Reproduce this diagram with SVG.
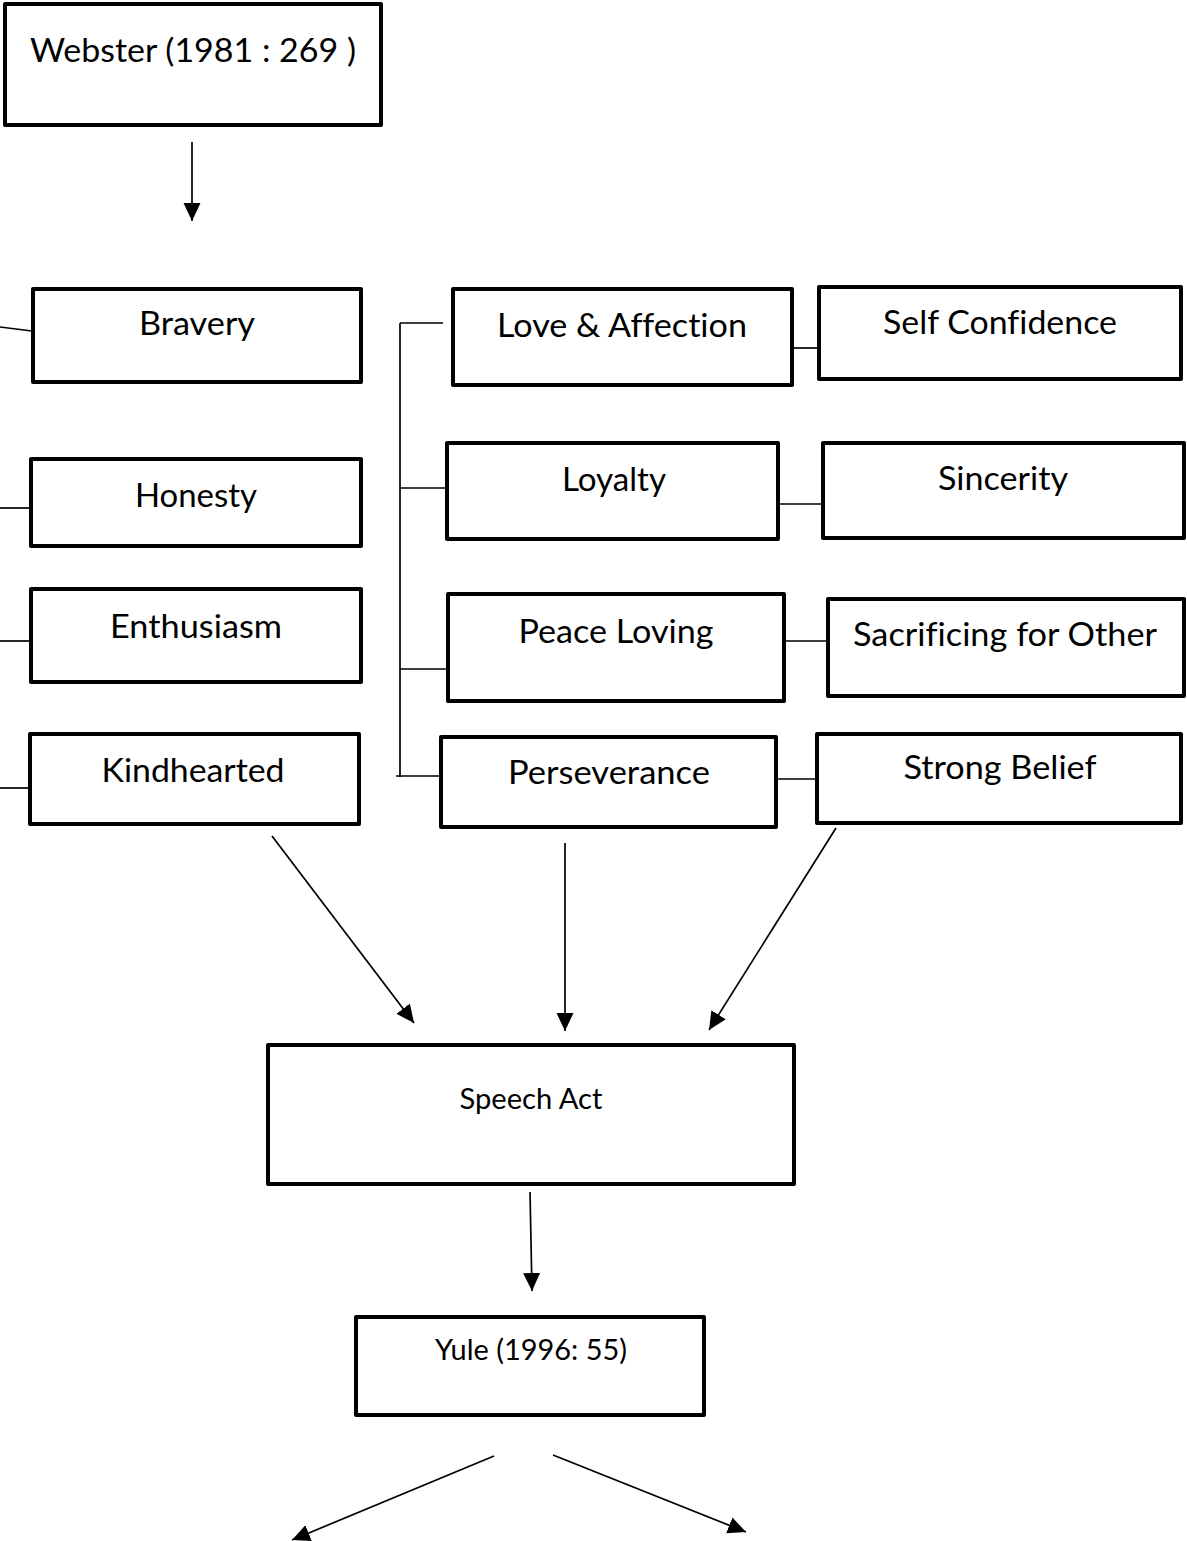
<svg xmlns="http://www.w3.org/2000/svg" width="1187" height="1541" viewBox="0 0 1187 1541">
<style>
.box{fill:#fff;stroke:#000;stroke-width:4;stroke-linejoin:round}
.t{font-family:Lato,"Open Sans","Liberation Sans",sans-serif;font-size:33px;fill:#000;text-anchor:middle;font-variant-ligatures:none}
.s{font-size:28px}
.c{fill:none;stroke:#000;stroke-width:1.7}
</style>
<defs>
<marker id="ah" markerUnits="userSpaceOnUse" markerWidth="20" markerHeight="18" refX="18" refY="8.5" orient="auto" viewBox="0 0 20 18">
<path d="M0,0 L18,8.5 L0,17 z" fill="#000"/>
</marker>
</defs>
<rect width="1187" height="1541" fill="#fff"/>
<g id="connectors">
<line class="c" x1="192" y1="142" x2="192" y2="221" marker-end="url(#ah)"/>
<line class="c" x1="0" y1="327" x2="32" y2="331"/>
<line class="c" x1="0" y1="508" x2="30" y2="508"/>
<line class="c" x1="0" y1="641" x2="30" y2="641"/>
<line class="c" x1="0" y1="788" x2="28" y2="788"/>
<line class="c" x1="400" y1="323" x2="400" y2="777"/>
<line class="c" x1="400" y1="323" x2="443" y2="323"/>
<line class="c" x1="400" y1="488" x2="447" y2="488"/>
<line class="c" x1="400" y1="669" x2="447" y2="669"/>
<line class="c" x1="396" y1="776" x2="441" y2="776"/>
<line class="c" x1="793" y1="348" x2="818" y2="348"/>
<line class="c" x1="779" y1="504" x2="822" y2="504"/>
<line class="c" x1="785" y1="641" x2="827" y2="641"/>
<line class="c" x1="772" y1="779" x2="817" y2="779"/>
<line class="c" x1="272" y1="836" x2="414" y2="1023" marker-end="url(#ah)"/>
<line class="c" x1="565" y1="843" x2="565" y2="1031" marker-end="url(#ah)"/>
<line class="c" x1="836" y1="828" x2="709" y2="1030" marker-end="url(#ah)"/>
<line class="c" x1="530" y1="1192" x2="532" y2="1291" marker-end="url(#ah)"/>
<line class="c" x1="494" y1="1456" x2="292" y2="1540" marker-end="url(#ah)"/>
<line class="c" x1="553" y1="1455" x2="746" y2="1532" marker-end="url(#ah)"/>
</g>
<g id="webster"><rect class="box" x="5" y="4" width="376" height="121"/><text class="t" x="193" y="62" textLength="326" lengthAdjust="spacingAndGlyphs">Webster (1981 : 269 )</text></g>
<g id="bravery"><rect class="box" x="33" y="289" width="328" height="93"/><text class="t" x="197" y="335" textLength="116" lengthAdjust="spacingAndGlyphs">Bravery</text></g>
<g id="honesty"><rect class="box" x="31" y="459" width="330" height="87"/><text class="t" x="196" y="507" textLength="122" lengthAdjust="spacingAndGlyphs">Honesty</text></g>
<g id="enthusiasm"><rect class="box" x="31" y="589" width="330" height="93"/><text class="t" x="196" y="638" textLength="172" lengthAdjust="spacingAndGlyphs">Enthusiasm</text></g>
<g id="kindhearted"><rect class="box" x="30" y="734" width="329" height="90"/><text class="t" x="193" y="782" textLength="183" lengthAdjust="spacingAndGlyphs">Kindhearted</text></g>
<g id="love"><rect class="box" x="453" y="289" width="339" height="96"/><text class="t" x="622" y="337" textLength="250" lengthAdjust="spacingAndGlyphs">Love &amp; Affection</text></g>
<g id="loyalty"><rect class="box" x="447" y="443" width="331" height="96"/><text class="t" x="614" y="491" textLength="104" lengthAdjust="spacingAndGlyphs">Loyalty</text></g>
<g id="peace"><rect class="box" x="448" y="594" width="336" height="107"/><text class="t" x="616" y="643" textLength="195" lengthAdjust="spacingAndGlyphs">Peace Loving</text></g>
<g id="perseverance"><rect class="box" x="441" y="737" width="335" height="90"/><text class="t" x="609" y="784" textLength="202" lengthAdjust="spacingAndGlyphs">Perseverance</text></g>
<g id="selfconfidence"><rect class="box" x="819" y="287" width="362" height="92"/><text class="t" x="1000" y="334" textLength="234" lengthAdjust="spacingAndGlyphs">Self Confidence</text></g>
<g id="sincerity"><rect class="box" x="823" y="443" width="361" height="95"/><text class="t" x="1003" y="490" textLength="130" lengthAdjust="spacingAndGlyphs">Sincerity</text></g>
<g id="sacrificing"><rect class="box" x="828" y="599" width="356" height="97"/><text class="t" x="1005" y="646" textLength="304" lengthAdjust="spacingAndGlyphs">Sacrificing for Other</text></g>
<g id="strongbelief"><rect class="box" x="817" y="734" width="364" height="89"/><text class="t" x="1000" y="779" textLength="193" lengthAdjust="spacingAndGlyphs">Strong Belief</text></g>
<g id="speechact"><rect class="box" x="268" y="1045" width="526" height="139"/><text class="t s" x="531" y="1109" textLength="143" lengthAdjust="spacingAndGlyphs">Speech Act</text></g>
<g id="yule"><rect class="box" x="356" y="1317" width="348" height="98"/><text class="t s" x="531" y="1360" textLength="192" lengthAdjust="spacingAndGlyphs">Yule (1996: 55)</text></g>
</svg>
